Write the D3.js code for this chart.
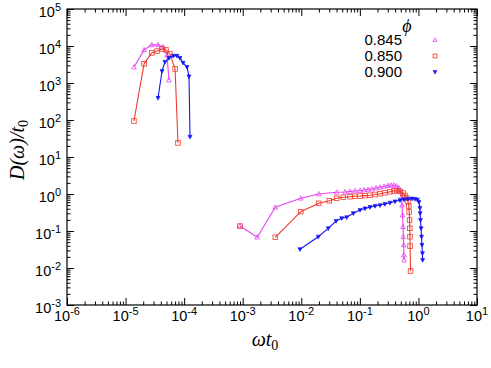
<!DOCTYPE html>
<html>
<head>
<meta charset="utf-8">
<script src="https://d3js.org/d3.v7.min.js"></script>
<style>
body { margin: 0; background: #fff; }
.tick-label { font: 14.5px "Liberation Sans", Arial, sans-serif; fill: #000; }
.axis path, .axis line { stroke: #000; }
.ax-title { font-family: "Liberation Serif", "DejaVu Serif", serif; font-style: italic; fill: #000; }
.legend { font: 15px "Liberation Sans", Arial, sans-serif; fill: #000; }
</style>
</head>
<body>
<svg width="491" height="368"></svg>
<script>
// phi values for the three series
var phiLabels = ["0.845", "0.850", "0.900"];
var colors = ["#e545f0", "#ee3a2a", "#1515f0"];

// low frequency branch [omega*t0, D/t0]
var low845 = [[1.39e-5, 2.7e3], [2.07e-5, 7.8e3], [2.8e-5, 1.07e4], [3.6e-5, 1.07e4],
  [4.35e-5, 9.4e3], [5.1e-5, 5.7e3], [5.5e-5, 1.2e3]];
var low850 = [[1.39e-5, 94], [2.07e-5, 3.3e3], [2.8e-5, 6.5e3], [3.44e-5, 7.3e3],
  [4.19e-5, 8.3e3], [4.9e-5, 7.8e3], [5.7e-5, 6.1e3], [7.0e-5, 2.4e3], [7.85e-5, 24]];
var low900 = [[3.58e-5, 394], [4.19e-5, 2.1e3], [4.7e-5, 3.7e3], [5.5e-5, 4.7e3],
  [6.5e-5, 5.4e3], [7.55e-5, 5.4e3], [8.5e-5, 4.7e3], [9.6e-5, 3.5e3], [1.12e-4, 2.7e3],
  [1.21e-4, 1.5e3], [1.26e-4, 35]];

// high frequency branch
var high845 = [[9.0e-4, 0.136], [1.77e-3, 0.068], [3.6e-3, 0.437], [9.8e-3, 0.766],
  [0.0198, 1.0], [0.0403, 1.11], [0.0557, 1.13], [0.0679, 1.17], [0.0826, 1.21],
  [0.1007, 1.24], [0.118, 1.28], [0.138, 1.32], [0.161, 1.36], [0.189, 1.45],
  [0.221, 1.52], [0.258, 1.60], [0.303, 1.68], [0.340, 1.72], [0.383, 1.72],
  [0.423, 1.64], [0.466, 1.45], [0.494, 1.21], [0.514, 0.83], [0.525, 0.50],
  [0.535, 0.27], [0.546, 0.13], [0.553, 0.070], [0.560, 0.042], [0.564, 0.0224],
  [0.568, 0.0164]];
var high850 = [[9.0e-4, 0.136], null, [3.6e-3, 0.0676], [9.8e-3, 0.333], [0.0198, 0.561],
  [0.0301, 0.659], [0.0403, 0.766], [0.0521, 0.815], [0.0679, 0.846], [0.0826, 0.867],
  [0.1007, 0.883], [0.1225, 0.906], [0.149, 0.929], [0.1815, 0.969], [0.221, 1.02],
  [0.268, 1.08], [0.327, 1.15], [0.383, 1.21], [0.430, 1.23], [0.484, 1.18],
  [0.546, 1.06], [0.590, 0.91], [0.631, 0.78], [0.664, 0.62], [0.686, 0.474],
  [0.695, 0.327], [0.705, 0.198], [0.713, 0.118], [0.718, 0.070], [0.72, 0.039],
  [0.733, 0.0083]];
var high900 = [[9.5e-3, 0.032], [0.0195, 0.070], [0.0289, 0.118], [0.0392, 0.186],
  [0.049, 0.220], [0.0596, 0.234], [0.0773, 0.30], [0.1007, 0.37], [0.1225, 0.406],
  [0.149, 0.44], [0.1815, 0.474], [0.221, 0.495], [0.268, 0.537], [0.327, 0.578],
  [0.398, 0.627], [0.484, 0.676], [0.568, 0.71], [0.664, 0.733], [0.776, 0.746],
  [0.875, 0.733], [0.963, 0.697], [1.02, 0.608], [1.06, 0.419], [1.07, 0.30],
  [1.085, 0.198], [1.11, 0.118], [1.13, 0.070], [1.15, 0.042], [1.17, 0.0249],
  [1.18, 0.0164]];

var xMajor = [1e-6, 1e-5, 1e-4, 1e-3, 1e-2, 1e-1, 1e0, 1e1];
var yMajor = [1e-3, 1e-2, 1e-1, 1e0, 1e1, 1e2, 1e3, 1e4, 1e5];

var series = [
  { phi: 0, parts: [low845, high845], shape: "up" },
  { phi: 1, parts: [low850, high850], shape: "square" },
  { phi: 2, parts: [low900, high900], shape: "down" }
];

var svg = d3.select("svg"),
    plotL = 67, plotR = 477, plotT = 9, plotB = 305;

var x = d3.scaleLog().domain([1e-6, 1e1]).range([plotL, plotR]);
var y = d3.scaleLog().domain([1e-3, 1e5]).range([plotB, plotT]);

function minors(major) {
  var out = [];
  major.slice(0, -1).forEach(function(m) {
    for (var k = 2; k < 10; k++) out.push(m * k);
  });
  return out;
}

// frame
svg.append("rect").attr("x", plotL).attr("y", plotT)
  .attr("width", plotR - plotL).attr("height", plotB - plotT)
  .attr("fill", "none").attr("stroke", "#000").attr("stroke-width", 1.2);

// ticks, inward on all four sides
function tickAxes(axisFn, scale, vals, size, tr) {
  svg.append("g").attr("class", "axis").attr("transform", tr)
    .call(axisFn(scale).tickValues(vals).tickSize(size).tickFormat(""))
    .call(function(g) { g.select(".domain").remove(); });
}
tickAxes(d3.axisBottom, x, xMajor, -7, "translate(0," + plotB + ")");
tickAxes(d3.axisBottom, x, minors(xMajor), -3.5, "translate(0," + plotB + ")");
tickAxes(d3.axisTop, x, xMajor, -7, "translate(0," + plotT + ")");
tickAxes(d3.axisTop, x, minors(xMajor), -3.5, "translate(0," + plotT + ")");
tickAxes(d3.axisLeft, y, yMajor, -7, "translate(" + plotL + ",0)");
tickAxes(d3.axisLeft, y, minors(yMajor), -3.5, "translate(" + plotL + ",0)");
tickAxes(d3.axisRight, y, yMajor, -7, "translate(" + plotR + ",0)");
tickAxes(d3.axisRight, y, minors(yMajor), -3.5, "translate(" + plotR + ",0)");

function powLabel(sel, v) {
  var e = Math.round(Math.log10(v));
  sel.append("tspan").text("10");
  sel.append("tspan").attr("dy", -6).attr("font-size", 11).text(e);
}

// tick labels
svg.append("g").selectAll("text").data(xMajor).join("text")
  .attr("class", "tick-label")
  .attr("x", function(d) { return x(d); })
  .attr("y", 321)
  .attr("text-anchor", "middle")
  .each(function(d) { powLabel(d3.select(this), d); });

svg.append("g").selectAll("text").data(yMajor).join("text")
  .attr("class", "tick-label")
  .attr("x", 61)
  .attr("y", function(d) { return y(d) + 8; })
  .attr("text-anchor", "end")
  .each(function(d) { powLabel(d3.select(this), d); });

// axis titles
var xt = svg.append("text").attr("class", "ax-title").attr("font-size", 20)
  .attr("x", 265).attr("y", 346).attr("text-anchor", "middle");
xt.append("tspan").text("ωt");
xt.append("tspan").attr("font-size", 14).attr("font-style", "normal").attr("dy", 4).text("0");

var yt = svg.append("text").attr("class", "ax-title").attr("font-size", 20)
  .attr("transform", "translate(24,150) rotate(-90)").attr("text-anchor", "middle");
yt.append("tspan").text("D(ω)/t");
yt.append("tspan").attr("font-size", 14).attr("font-style", "normal").attr("dy", 4).text("0");

// markers
function marker(g, shape, color, s) {
  if (shape === "square") {
    g.append("rect").attr("x", -s).attr("y", -s).attr("width", 2 * s).attr("height", 2 * s)
      .attr("fill", "none").attr("stroke", color).attr("stroke-width", 0.8);
  } else if (shape === "up") {
    g.append("path").attr("d", "M0," + (-s * 1.1) + "L" + s + "," + (s * 0.8) + "L" + (-s) + "," + (s * 0.8) + "Z")
      .attr("fill", "none").attr("stroke", color).attr("stroke-width", 0.8);
  } else {
    g.append("path").attr("d", "M0," + (s * 1.1) + "L" + s + "," + (-s * 0.8) + "L" + (-s) + "," + (-s * 0.8) + "Z")
      .attr("fill", color).attr("stroke", color).attr("stroke-width", 0.6);
  }
}

var line = d3.line()
  .defined(function(d) { return d !== null; })
  .x(function(d) { return x(d[0]); })
  .y(function(d) { return y(d[1]); });

series.forEach(function(s) {
  var color = colors[s.phi];
  var g = svg.append("g");
  s.parts.forEach(function(part) {
    g.append("path").datum(part).attr("d", line)
      .attr("fill", "none").attr("stroke", color).attr("stroke-width", 1.1);
    g.selectAll(null).data(part.filter(function(d) { return d !== null; })).join("g")
      .attr("transform", function(d) { return "translate(" + x(d[0]) + "," + y(d[1]) + ")"; })
      .each(function() { marker(d3.select(this), s.shape, color, s.shape === "down" ? 2 : 2.3); });
  });
});

// legend
svg.append("text").attr("class", "ax-title").attr("font-size", 18)
  .attr("x", 407).attr("y", 32).attr("text-anchor", "middle").text("ϕ");
phiLabels.forEach(function(p, i) {
  var yy = 45 + i * 16;
  svg.append("text").attr("class", "legend").attr("x", 402).attr("y", yy)
    .attr("text-anchor", "end").text(p);
  var g = svg.append("g").attr("transform", "translate(435," + (yy - 5) + ")");
  marker(g, series[i].shape, colors[i], 1.9);
});
</script>
</body>
</html>
